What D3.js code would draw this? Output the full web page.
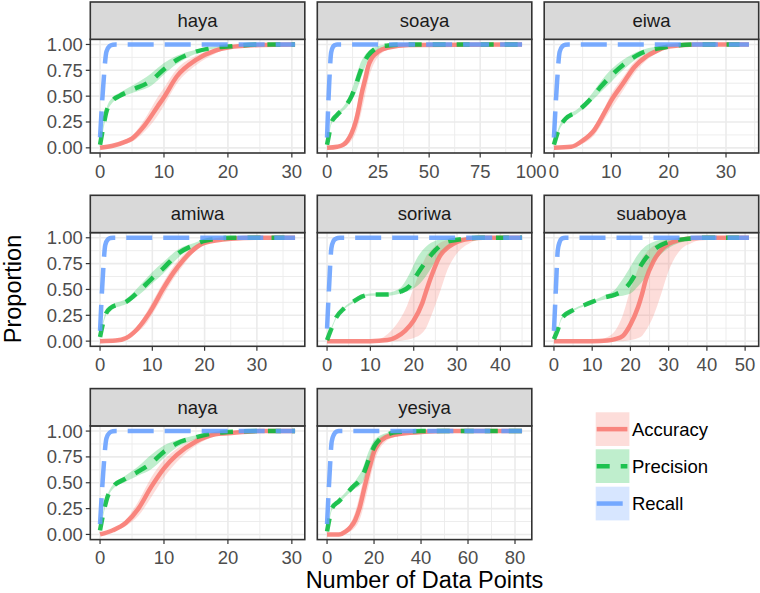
<!DOCTYPE html>
<html><head><meta charset="utf-8">
<script src="https://cdn.jsdelivr.net/npm/d3@7"></script>
<style>body{margin:0;background:#fff}svg{display:block}</style>
</head><body>
<script>
// ---------- data ----------
const panels = ["haya","soaya","eiwa","amiwa","soriwa","suaboya","naya","yesiya"];
const xMax = [30.5, 95.5, 34, 37.3, 45, 51, 30.5, 83];
const xBreaks = [[0,10,20,30],[0,25,50,75,100],[0,10,20,30],[0,10,20,30],[0,10,20,30,40],[0,10,20,30,40,50],[0,10,20,30],[0,20,40,60,80]];
const yBreaks = [0,0.25,0.5,0.75,1];
const yLabels = ["0.00","0.25","0.50","0.75","1.00"];
const metrics = ["Accuracy","Precision","Recall"];
const colors = ["#F8766D","#00BA38","#619CFF"];

// Accuracy
const accX = [
 [0,2,4,5,7,9,10,12,15,18,20,25,30.5],
 [0,5,8,10,12,14,15,17,19,20,22,25,30,40,95.5],
 [0,3,5,7,9,10,12,14,16,18,20,25,34],
 [0,3,5,7,9,10,12,14,16,18,20,25,30,37.3],
 [0,5,10,14,16,18,20,22,23,24,26,28,30,33,36,45],
 [0,5,10,14,16,18,20,22,23,24,26,28,30,33,36,40,51],
 [0,2,4,6,8,10,12,15,18,20,25,30.5],
 [0,5,8,10,12,14,16,18,20,22,25,30,40,50,83]];
const accMean = [
 [0,0.02,0.06,0.09,0.22,0.40,0.49,0.69,0.85,0.94,0.97,0.995,1],
 [0,0.01,0.03,0.07,0.14,0.25,0.33,0.53,0.69,0.78,0.87,0.93,0.97,0.995,1],
 [0,0.01,0.07,0.17,0.36,0.46,0.62,0.78,0.88,0.94,0.98,1,1],
 [0,0.005,0.03,0.11,0.24,0.32,0.50,0.66,0.79,0.89,0.95,0.99,1,1],
 [0,0,0,0.01,0.04,0.10,0.20,0.37,0.50,0.62,0.82,0.91,0.96,0.99,1,1],
 [0,0,0,0.005,0.02,0.05,0.16,0.33,0.45,0.59,0.77,0.88,0.94,0.98,0.995,1,1],
 [0,0.04,0.11,0.25,0.46,0.64,0.77,0.90,0.97,0.98,1,1],
 [0,0,0.03,0.07,0.14,0.27,0.46,0.64,0.80,0.88,0.94,0.97,0.99,1,1]];
const accLo = [
 [0,0.01,0.04,0.06,0.16,0.31,0.41,0.62,0.80,0.91,0.96,0.99,1],
 [0,0,0.01,0.03,0.07,0.14,0.20,0.36,0.54,0.64,0.77,0.88,0.95,0.99,1],
 [0,0,0.04,0.12,0.29,0.38,0.55,0.72,0.84,0.92,0.97,0.995,1],
 [0,0,0.02,0.08,0.18,0.26,0.43,0.60,0.74,0.86,0.93,0.985,1,1],
 [0,0,0,0,0,0.01,0.03,0.08,0.14,0.24,0.47,0.71,0.85,0.95,0.985,1],
 [0,0,0,0,0,0,0.01,0.03,0.05,0.10,0.24,0.45,0.68,0.88,0.95,0.99,1],
 [0,0.03,0.08,0.18,0.36,0.55,0.70,0.86,0.95,0.97,0.995,1],
 [0,0,0.01,0.03,0.07,0.15,0.31,0.50,0.69,0.81,0.90,0.95,0.985,1,1]];
const accHi = [
 [0,0.03,0.08,0.12,0.28,0.49,0.58,0.76,0.89,0.96,0.985,1,1],
 [0,0.02,0.05,0.11,0.20,0.34,0.43,0.63,0.78,0.85,0.92,0.96,0.99,1,1],
 [0,0.02,0.09,0.21,0.41,0.52,0.68,0.83,0.91,0.96,0.99,1,1],
 [0,0.01,0.05,0.14,0.29,0.38,0.56,0.72,0.84,0.92,0.97,1,1,1],
 [0,0,0,0.07,0.16,0.30,0.52,0.74,0.83,0.88,0.95,0.98,0.99,1,1,1],
 [0,0,0,0.04,0.10,0.25,0.50,0.70,0.80,0.85,0.92,0.96,0.99,1,1,1,1],
 [0,0.05,0.14,0.32,0.55,0.72,0.83,0.93,0.98,0.99,1,1],
 [0,0.01,0.05,0.11,0.22,0.39,0.59,0.76,0.88,0.93,0.97,0.99,1,1,1]];

// Precision
const precX = [
 [0,0.5,1,2,3,5,8,10,12,15,18,20,25,30.5],
 [0,1,2,5,8,10,12,14,16,18,20,23,26,30,40,95.5],
 [0,1,2,4,6,8,10,12,15,18,20,25,34],
 [0,1,2,5,8,10,12,15,18,20,25,37.3],
 [0,1,2,4,6,8,10,14,17,19,21,23,25,27,30,35,45],
 [0,1,2,5,8,10,13,16,18,20,22,24,26,28,30,35,40,51],
 [0,0.5,1,2,4,6,8,10,12,15,18,20,25,30.5],
 [0,1,2,5,8,11,15,18,20,22,25,30,40,83]];
const precMean = [
 [0.03,0.2,0.35,0.46,0.5,0.56,0.65,0.76,0.85,0.93,0.97,0.98,1,1],
 [0.03,0.13,0.24,0.32,0.38,0.43,0.50,0.60,0.72,0.82,0.89,0.95,0.98,0.99,1,1],
 [0.03,0.2,0.28,0.35,0.45,0.58,0.70,0.80,0.91,0.96,0.98,1,1],
 [0.04,0.25,0.32,0.38,0.51,0.61,0.70,0.85,0.93,0.97,1,1],
 [0.01,0.12,0.22,0.32,0.38,0.43,0.45,0.45,0.48,0.53,0.66,0.78,0.88,0.95,0.98,1,1],
 [0.02,0.11,0.22,0.30,0.35,0.38,0.42,0.45,0.49,0.57,0.69,0.80,0.88,0.93,0.96,0.99,1,1],
 [0.04,0.2,0.33,0.46,0.54,0.61,0.69,0.80,0.88,0.94,0.98,0.99,1,1],
 [0.03,0.15,0.25,0.32,0.39,0.46,0.56,0.74,0.85,0.91,0.96,0.99,1,1]];
const precLo = [
 [0.02,0.17,0.32,0.44,0.48,0.53,0.60,0.71,0.81,0.91,0.96,0.98,1,1],
 [0.02,0.11,0.22,0.30,0.36,0.40,0.46,0.53,0.64,0.75,0.84,0.92,0.96,0.98,1,1],
 [0.02,0.18,0.26,0.33,0.42,0.53,0.64,0.75,0.88,0.95,0.97,1,1],
 [0.03,0.23,0.30,0.36,0.47,0.56,0.65,0.81,0.91,0.96,1,1],
 [0.01,0.11,0.21,0.31,0.37,0.42,0.44,0.44,0.46,0.49,0.54,0.64,0.77,0.87,0.95,0.99,1],
 [0.02,0.10,0.21,0.29,0.34,0.37,0.40,0.43,0.44,0.46,0.53,0.62,0.76,0.84,0.90,0.97,0.99,1],
 [0.03,0.18,0.31,0.44,0.51,0.57,0.63,0.74,0.84,0.92,0.97,0.985,1,1],
 [0.02,0.13,0.23,0.30,0.37,0.43,0.50,0.66,0.79,0.87,0.94,0.98,1,1]];
const precHi = [
 [0.05,0.23,0.38,0.49,0.53,0.60,0.72,0.82,0.89,0.95,0.98,0.99,1,1],
 [0.04,0.15,0.26,0.34,0.40,0.46,0.55,0.68,0.80,0.88,0.93,0.97,0.99,1,1,1],
 [0.04,0.22,0.30,0.37,0.48,0.63,0.76,0.85,0.94,0.98,0.99,1,1],
 [0.05,0.27,0.34,0.41,0.56,0.67,0.76,0.89,0.95,0.98,1,1],
 [0.02,0.13,0.23,0.33,0.39,0.44,0.46,0.47,0.52,0.65,0.82,0.92,0.97,0.99,1,1,1],
 [0.03,0.12,0.23,0.31,0.36,0.39,0.44,0.50,0.60,0.72,0.84,0.92,0.96,0.98,0.99,1,1,1],
 [0.05,0.22,0.35,0.48,0.57,0.66,0.77,0.86,0.91,0.96,0.99,1,1,1],
 [0.04,0.17,0.27,0.34,0.41,0.49,0.63,0.82,0.91,0.95,0.98,1,1,1]];

// Recall
const recX = [
 [0,0.5,1,1.5,2,2.5,30.5],
 [0,1,2,3,4,5,95.5],
 [0,0.5,1,1.5,2,2.5,34],
 [0,0.5,1,1.5,2,2.5,37.3],
 [0,0.5,1,1.5,2,2.5,3,45],
 [0,0.5,1,1.5,2,2.5,3,51],
 [0,0.5,1,1.5,2,2.5,30.5],
 [0,1,2,3,4,5,83]];
const recMean = [
 [0.1,0.6,0.93,0.985,0.998,1,1],
 [0.1,0.6,0.92,0.98,0.995,1,1],
 [0.1,0.6,0.93,0.985,0.998,1,1],
 [0.1,0.6,0.93,0.985,0.998,1,1],
 [0.12,0.55,0.9,0.97,0.99,0.998,1,1],
 [0.1,0.5,0.88,0.96,0.99,0.998,1,1],
 [0.1,0.6,0.93,0.985,0.998,1,1],
 [0.1,0.55,0.9,0.97,0.995,1,1]];

// ---------- layout ----------
const W = 760, H = 593;
const colX0 = [90.3, 317.3, 544.2], panelW = 214.5;
const rowY0 = [2, 195.3, 388.6], stripH = 37.3, panelH = 113.7;
const FONT = "'Liberation Sans', Arial, Helvetica, sans-serif";
const small = 18.5, big = 23.5;

const svg = d3.select("body").append("svg").attr("width", W).attr("height", H)
  .style("font-family", FONT);

function minorBreaks(b, lim) {
  const bd = b[1] - b[0];
  let bb = b.slice();
  if (lim[0] < bb[0]) bb.unshift(bb[0] - bd);
  if (lim[1] > bb[bb.length - 1]) bb.push(bb[bb.length - 1] + bd);
  const out = [];
  for (let i = 0; i < bb.length - 1; i++) out.push((bb[i] + bb[i + 1]) / 2);
  return out.filter(v => v >= lim[0] && v <= lim[1]);
}

panels.forEach((name, i) => {
  const col = i % 3, row = Math.floor(i / 3);
  const x0 = colX0[col], top = rowY0[row] + stripH, bottom = top + panelH;
  const D = xMax[i];
  const xd = [-0.05 * D, 1.05 * D];
  const x = d3.scaleLinear().domain(xd).range([x0, x0 + panelW]);
  const y = d3.scaleLinear().domain([-0.05, 1.05]).range([bottom, top]);
  const g = svg.append("g");

  g.append("rect").attr("x", x0).attr("y", top).attr("width", panelW).attr("height", panelH).attr("fill", "#fff");
  // minor grid
  const yMinor = minorBreaks(yBreaks, [-0.05, 1.05]);
  const xMinor = minorBreaks(xBreaks[i], xd);
  yMinor.forEach(v => g.append("line").attr("x1", x0).attr("x2", x0 + panelW).attr("y1", y(v)).attr("y2", y(v))
    .attr("stroke", "#EBEBEB").attr("stroke-width", 0.9));
  xMinor.forEach(v => g.append("line").attr("y1", top).attr("y2", bottom).attr("x1", x(v)).attr("x2", x(v))
    .attr("stroke", "#EBEBEB").attr("stroke-width", 0.9));
  yBreaks.forEach(v => g.append("line").attr("x1", x0).attr("x2", x0 + panelW).attr("y1", y(v)).attr("y2", y(v))
    .attr("stroke", "#EBEBEB").attr("stroke-width", 1.6));
  xBreaks[i].filter(v => v >= xd[0] && v <= xd[1]).forEach(v => g.append("line").attr("y1", top).attr("y2", bottom)
    .attr("x1", x(v)).attr("x2", x(v)).attr("stroke", "#EBEBEB").attr("stroke-width", 1.6));

  const area = d3.area().x(d => x(d[0])).y0(d => y(d[1])).y1(d => y(d[2])).curve(d3.curveMonotoneX);
  const line = d3.line().x(d => x(d[0])).y(d => y(d[1])).curve(d3.curveMonotoneX);

  const accR = accX[i].map((v, k) => [v, accLo[i][k], accHi[i][k]]);
  const preR = precX[i].map((v, k) => [v, precLo[i][k], precHi[i][k]]);
  g.append("path").attr("d", area(accR)).attr("fill", colors[0]).attr("fill-opacity", 0.25);
  g.append("path").attr("d", area(preR)).attr("fill", colors[1]).attr("fill-opacity", 0.25);

  const accL = accX[i].map((v, k) => [v, accMean[i][k]]);
  const preL = precX[i].map((v, k) => [v, precMean[i][k]]);
  const recL = recX[i].map((v, k) => [v, recMean[i][k]]);
  g.append("path").attr("d", line(accL)).attr("fill", "none").attr("stroke", colors[0])
    .attr("stroke-width", 4.5).attr("stroke-opacity", 0.85);
  g.append("path").attr("d", line(preL)).attr("fill", "none").attr("stroke", colors[1])
    .attr("stroke-width", 4.5).attr("stroke-opacity", 0.85).attr("stroke-dasharray", "13,11");
  g.append("path").attr("d", line(recL)).attr("fill", "none").attr("stroke", colors[2])
    .attr("stroke-width", 4.5).attr("stroke-opacity", 0.85).attr("stroke-dasharray", "26,11");

  // panel border
  g.append("rect").attr("x", x0).attr("y", top).attr("width", panelW).attr("height", panelH)
    .attr("fill", "none").attr("stroke", "#333333").attr("stroke-width", 1.6);
  // strip
  g.append("rect").attr("x", x0).attr("y", rowY0[row]).attr("width", panelW).attr("height", stripH)
    .attr("fill", "#D9D9D9").attr("stroke", "#333333").attr("stroke-width", 1.6);
  g.append("text").attr("x", x0 + panelW / 2).attr("y", rowY0[row] + stripH / 2 + 6.5)
    .attr("text-anchor", "middle").attr("font-size", small).attr("fill", "#1A1A1A").text(name);

  // x axis
  xBreaks[i].filter(v => v >= xd[0] && v <= xd[1]).forEach(v => {
    g.append("line").attr("x1", x(v)).attr("x2", x(v)).attr("y1", bottom).attr("y2", bottom + 4.5)
      .attr("stroke", "#333333").attr("stroke-width", 1.2);
    g.append("text").attr("x", x(v)).attr("y", bottom + 24.5).attr("text-anchor", "middle")
      .attr("font-size", small).attr("fill", "#4D4D4D").text(String(v));
  });
  // y axis on first column
  if (col === 0) {
    yBreaks.forEach((v, k) => {
      g.append("line").attr("x1", x0 - 4.5).attr("x2", x0).attr("y1", y(v)).attr("y2", y(v))
        .attr("stroke", "#333333").attr("stroke-width", 1.2);
      g.append("text").attr("x", x0 - 7.5).attr("y", y(v) + 6.5).attr("text-anchor", "end")
        .attr("font-size", small).attr("fill", "#4D4D4D").text(yLabels[k]);
    });
  }
});

// axis titles
svg.append("text").attr("x", 424.5).attr("y", 588).attr("text-anchor", "middle")
  .attr("font-size", big).attr("fill", "#000").text("Number of Data Points");
svg.append("text").attr("transform", "translate(21,289) rotate(-90)").attr("text-anchor", "middle")
  .attr("font-size", big).attr("fill", "#000").text("Proportion");

// legend
const legX = 595.7, legY = [412.3, 449.3, 486.7], keyS = 33.7;
const dashes = [null, "13,11", "26,11"];
metrics.forEach((m, k) => {
  const lg = svg.append("g");
  lg.append("rect").attr("x", legX).attr("y", legY[k]).attr("width", keyS).attr("height", keyS)
    .attr("fill", colors[k]).attr("fill-opacity", 0.25);
  const ln = lg.append("line").attr("x1", legX + 1).attr("x2", legX + keyS - 2)
    .attr("y1", legY[k] + keyS / 2).attr("y2", legY[k] + keyS / 2)
    .attr("stroke", colors[k]).attr("stroke-width", 4.5).attr("stroke-opacity", 0.85);
  if (dashes[k]) ln.attr("stroke-dasharray", dashes[k]);
  lg.append("text").attr("x", legX + keyS + 2.5).attr("y", legY[k] + keyS / 2 + 6.5)
    .attr("font-size", small).attr("fill", "#000").text(m);
});
</script>
</body></html>
